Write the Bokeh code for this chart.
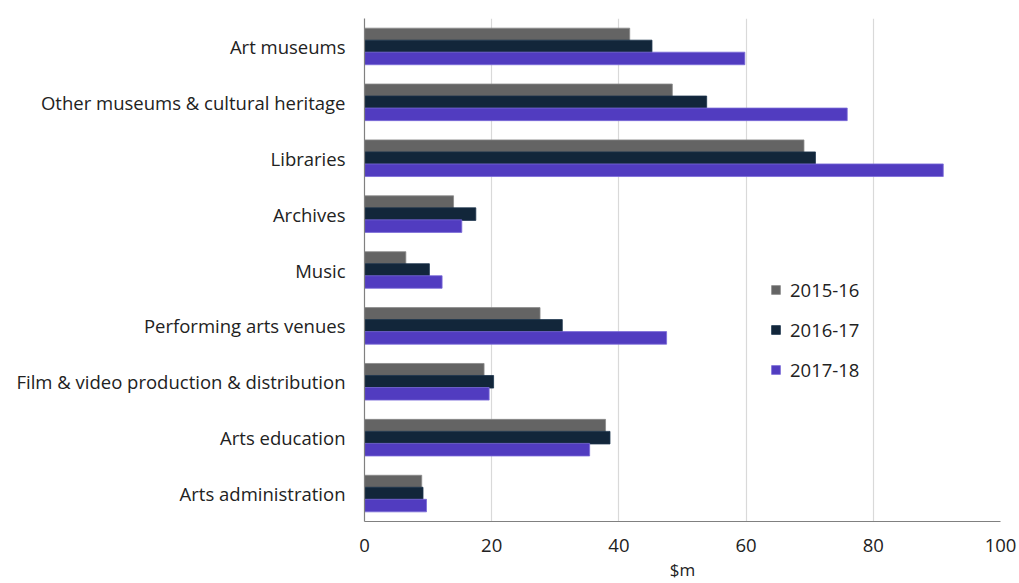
from bokeh.plotting import figure
from bokeh.models import ColumnDataSource, FactorRange, Legend, LegendItem
from bokeh.transform import dodge
from bokeh.embed import file_html
from bokeh.resources import INLINE

categories = ["Art museums", "Other museums & cultural heritage", "Libraries", "Archives",
              "Music", "Performing arts venues", "Film & video production & distribution",
              "Arts education", "Arts administration"]
series_names = ["2015-16", "2016-17", "2017-18"]
v2015 = [41.7, 48.4, 69.1, 14.0, 6.5, 27.6, 18.8, 37.9, 9.0]
v2016 = [45.2, 53.8, 70.9, 17.5, 10.2, 31.1, 20.3, 38.6, 9.2]
v2017 = [59.8, 75.9, 91.0, 15.3, 12.2, 47.5, 19.6, 35.4, 9.75]
x_ticks = [0, 20, 40, 60, 80, 100]

colors = ["#646464", "#12263a", "#513cc0"]
lines = ["#8a8a8a", "#1c344c", "#7a6ad8"]
FONT = "Open Sans"
FS = "18.5px"

src = ColumnDataSource(dict(cat=categories, a=v2015, b=v2016, c=v2017))

p = figure(width=1019, height=583, output_backend="svg", toolbar_location=None,
           y_range=FactorRange(*reversed(categories)), x_range=(0, 100),
           min_border_left=364, min_border_right=19, min_border_top=18, min_border_bottom=61)

renderers = []
for col, off, c, lc in zip(["a", "b", "c"], [0.215, 0.0, -0.215], colors, lines):
    r = p.hbar(y=dodge("cat", off, range=p.y_range), right=col, left=0, height=0.225,
               source=src, fill_color=c, line_color=lc, line_width=0.8)
    renderers.append(r)

legend = Legend(items=[LegendItem(label=n, renderers=[r]) for n, r in zip(series_names, renderers)],
                location=(406, 139), orientation="vertical")
legend.background_fill_alpha = 0
legend.border_line_alpha = 0
legend.padding = 0
legend.margin = 0
legend.spacing = 15
legend.glyph_width = 11
legend.glyph_height = 11
legend.label_height = 22
legend.label_standoff = 9
legend.label_text_font = FONT
legend.label_text_font_size = FS
legend.label_text_color = "#222222"
p.add_layout(legend, "center")

p.xaxis.ticker = x_ticks
p.xaxis.axis_label = "$m"
p.xaxis.axis_label_text_font = FONT
p.xaxis.axis_label_text_font_style = "normal"
p.xaxis.axis_label_text_font_size = "17px"
p.xaxis.axis_label_text_color = "#222222"
p.xaxis.axis_label_standoff = 3
for ax in (p.xaxis, p.yaxis):
    ax.major_label_text_font = FONT
    ax.major_label_text_font_size = FS
    ax.major_label_text_color = "#222222"
    ax.major_tick_line_color = None
    ax.minor_tick_line_color = None
    ax.axis_line_color = "#808080"
    ax.axis_line_width = 1.2
p.xaxis.major_label_standoff = 11
p.yaxis.major_label_standoff = 13

p.xgrid.grid_line_color = "#d9d9d9"
p.xgrid.grid_line_width = 1.2
p.ygrid.grid_line_color = None
p.outline_line_color = None

open("out.html", "w").write(file_html(p, INLINE))
